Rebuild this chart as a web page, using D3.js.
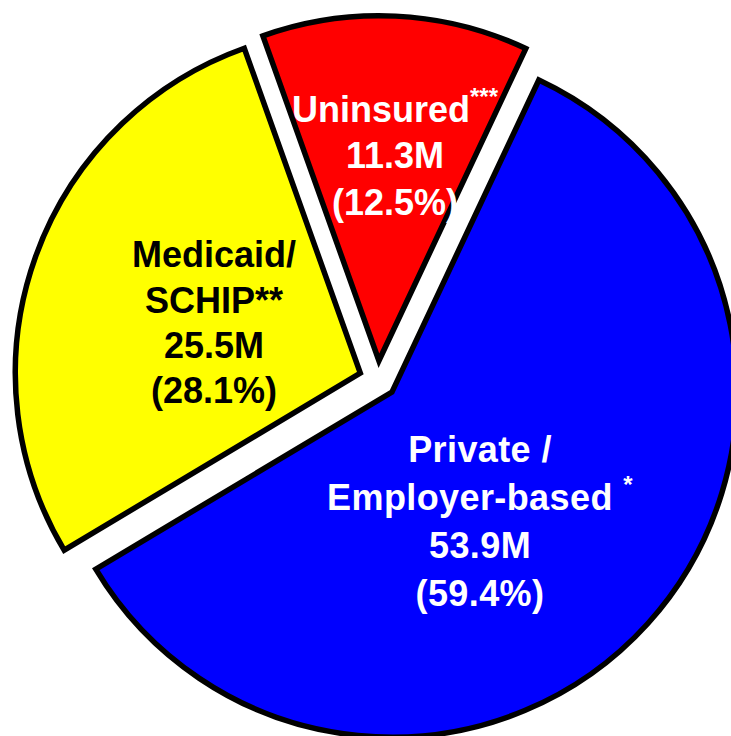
<!DOCTYPE html>
<html>
<head>
<meta charset="utf-8">
<script src="https://cdn.jsdelivr.net/npm/d3@7"></script>
<style>
  body { margin: 0; background: #fff; }
  svg { display: block; }
  .lbl { font-family: "Liberation Sans", Arial, sans-serif; font-weight: bold; }
</style>
</head>
<body>
<div id="chart"></div>
<script>
// data
const categories = ["Private / Employer-based", "Medicaid/SCHIP", "Uninsured"];
const enrolled = [53.9, 25.5, 11.3];           // millions
const shares = ["59.4%", "28.1%", "12.5%"];
const footnotes = ["*", "**", "***"];
const colors = ["#0000ff", "#ffff00", "#ff0000"];

const width = 731, height = 736;
const cx = 378, cy = 379.5;
const radius = 345;
const explode = 18.8;

const svg = d3.select("#chart")
    .append("svg")
    .attr("width", width)
    .attr("height", height);

const pie = d3.pie()
    .sort(null)
    .value(d => d)
    .startAngle(25.2 * Math.PI / 180)
    .endAngle(25.2 * Math.PI / 180 + 2 * Math.PI);

const arc = d3.arc()
    .innerRadius(0)
    .outerRadius(radius);

const arcs = pie(enrolled);

svg.selectAll(".slice")
    .data(arcs)
    .enter().append("path")
    .attr("class", "slice")
    .attr("transform", d => {
        let mid = (d.startAngle + d.endAngle) / 2;
        return `translate(${cx + explode * Math.sin(mid)},${cy - explode * Math.cos(mid)})`;
    })
    .attr("d", arc)
    .attr("fill", (d, i) => colors[i])
    .attr("stroke", "#000")
    .attr("stroke-width", 5.5)
    .attr("stroke-linejoin", "miter");

// label blocks: lines for each slice, footnote marker goes on the name line
const labelLayout = [
    {x: 480, y: 461.5, step: 48.3, color: "#fff", spacing: 0.4,
     lines: [["Private /", ""], ["Employer-based ", footnotes[0]], [enrolled[0] + "M", ""], ["(" + shares[0] + ")", ""]]},
    {x: 214, y: 267.3, step: 45.2, color: "#000", spacing: 0,
     lines: [["Medicaid/", ""], ["SCHIP" + footnotes[1], ""], [enrolled[1] + "M", ""], ["(" + shares[1] + ")", ""]]},
    {x: 395, y: 121.5, step: 46.5, color: "#fff", spacing: 0,
     lines: [["Uninsured", footnotes[2]], [enrolled[2] + "M", ""], ["(" + shares[2] + ")", ""]]}
];

labelLayout.forEach(lab => {
    lab.lines.forEach((ln, j) => {
        let t = svg.append("text")
            .attr("class", "lbl")
            .attr("x", lab.x)
            .attr("y", lab.y + j * lab.step)
            .attr("text-anchor", "middle")
            .attr("fill", lab.color)
            .style("letter-spacing", lab.spacing + "px")
            .style("font-size", "36px");
        t.append("tspan").text(ln[0]);
        if (ln[1]) {
            t.append("tspan")
                .attr("dy", -17)
                .style("font-size", "24px")
                .text(ln[1]);
        }
    });
});
</script>
</body>
</html>
